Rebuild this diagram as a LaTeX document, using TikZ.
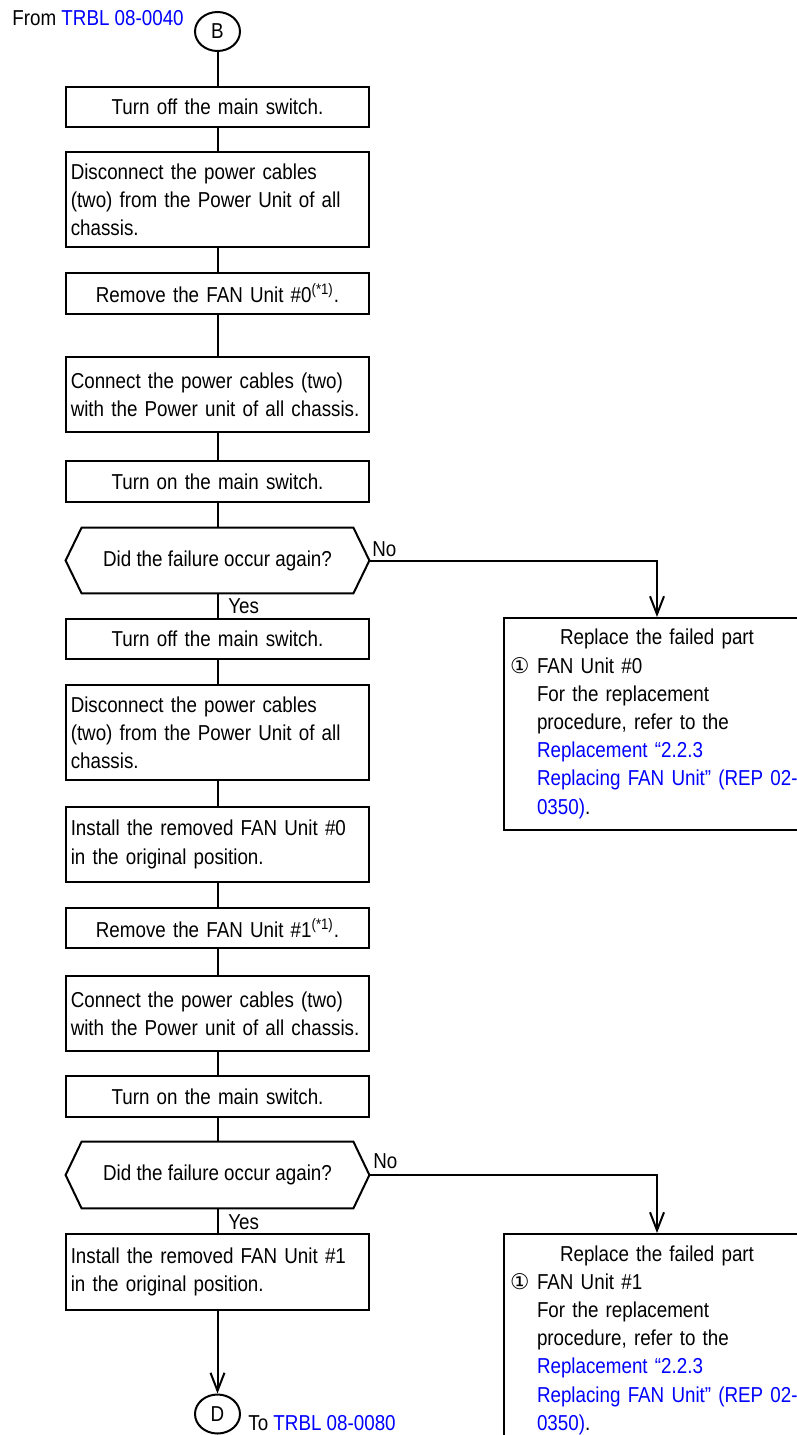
\documentclass[tikz, border = 0pt]{standalone}
\usepackage{fontspec}
\setmainfont[FakeStretch = 0.87]{Liberation Sans}
\newfontfamily\circnumfont{DejaVu Sans}
\usetikzlibrary{arrows.meta, shapes.geometric}
\definecolor{linkblue}{RGB}{0, 0, 255}
\newcommand{\reflink}[1]{\textcolor{linkblue}{#1}}

\begin{document}
\begin{tikzpicture}[x = 0.5pt, y = -0.5pt,
        every node/.style = {font = \fontsize{10.8pt}{14.1pt}\selectfont},
        stepbox/.style = {draw, line width = 1pt, inner xsep = 2.5pt, inner ysep = 0pt, text width = 146.75pt, align = center, minimum height = #1},
        notebox/.style = {stepbox = #1, align = left},
        decbox/.style = {inner sep = 0pt, minimum width = 151.5pt, minimum height = #1},
        partbox/.style = {draw, line width = 1pt, inner xsep = 3pt, inner ysep = 0pt, text width = 147pt, align = left, minimum height = 106pt},
        endpoint/.style = {draw, line width = 1pt, ellipse, inner sep = 0pt, minimum width = 22.5pt, minimum height = 19.5pt},
        yesno/.style = {inner sep = 0pt, anchor = west},
        link/.style = {line width = 1pt},
        flow/.style = {link, -{Straight Barb[length = 9pt, width = 7pt]}}]
    \useasboundingbox (0, 0) rectangle (797, 1435);
    \clip (0, 0) rectangle (797, 1435);
    % entry and exit points
    \node[endpoint] (B) at (217.5, 31.5) {B};
    \node[inner sep = 0pt, anchor = base west] (fromlbl) at (12, 25) {From \reflink{TRBL 08-0040}};
    \node[endpoint] (D) at (217.5, 1414) {D};
    \node[inner sep = 0pt, anchor = base west] (tolbl) at (248, 1430) {To \reflink{TRBL 08-0080}};
    % main column, first pass with FAN Unit #0
    \node[stepbox = 20pt] (s1) at (217.5, 107) {Turn off the main switch.};
    \node[notebox = 47.5pt] (s2) at (217.5, 199.5) {\mbox{Disconnect the power cables}\\\mbox{(two) from the Power Unit of all}\\chassis.};
    \node[stepbox = 20.5pt] (s3) at (217.5, 293.5) {Remove the FAN Unit \#0\textsuperscript{(*1)}.};
    \node[notebox = 37.5pt] (s4) at (217.5, 394.5) {\mbox{Connect the power cables (two)}\\\mbox{with the Power unit of all chassis.}};
    \node[stepbox = 20.5pt] (s5) at (217.5, 481.5) {Turn on the main switch.};
    \node[decbox = 32.5pt] (d1) at (217.5, 560.5) {Did the failure occur again?};
    % second pass with FAN Unit #1
    \node[stepbox = 20pt] (s6) at (217.5, 639) {Turn off the main switch.};
    \node[notebox = 47.5pt] (s7) at (217.5, 732.5) {\mbox{Disconnect the power cables}\\\mbox{(two) from the Power Unit of all}\\chassis.};
    \node[notebox = 37.5pt] (s8) at (217.5, 844.5) {\mbox{Install the removed FAN Unit \#0}\\\mbox{in the original position.}};
    \node[stepbox = 20pt] (s9) at (217.5, 928) {Remove the FAN Unit \#1\textsuperscript{(*1)}.};
    \node[notebox = 37.5pt] (s10) at (217.5, 1013.5) {\mbox{Connect the power cables (two)}\\\mbox{with the Power unit of all chassis.}};
    \node[stepbox = 20.5pt] (s11) at (217.5, 1096.5) {Turn on the main switch.};
    \node[decbox = 33pt] (d2) at (217.5, 1175) {Did the failure occur again?};
    \node[notebox = 38pt] (s12) at (217.5, 1272) {\mbox{Install the removed FAN Unit \#1}\\\mbox{in the original position.}};
    % the decisions are drawn as hexagons round their text
    \foreach \d in {d1, d2}{
        \draw[link] ([xshift = 8pt]\d.north west) -- ([xshift = -8pt]\d.north east) -- (\d.east) -- ([xshift = -8pt]\d.south east) -- ([xshift = 8pt]\d.south west) -- (\d.west) -- cycle;
    }
    % replacement boxes on the right, cut off by the page edge
    \foreach \n/\y/\u in {r1/724/0, r2/1340/1}{
        \node[partbox] (\n) at (657, \y) {\makebox[\linewidth]{Replace the failed part}\\
            \mbox{\makebox[13.5pt][l]{\circnumfont ①}FAN Unit \#\u}\\
            \mbox{\hspace*{13.5pt}For the replacement}\\
            \mbox{\hspace*{13.5pt}procedure, refer to the}\\
            \mbox{\hspace*{13.5pt}\reflink{Replacement “2.2.3}}\\
            \mbox{\hspace*{13.5pt}\reflink{Replacing FAN Unit” (REP 02-}}\\
            \mbox{\hspace*{13.5pt}\reflink{0350)}.}};
    }
    \foreach \a/\b in {B/s1, s1/s2, s2/s3, s3/s4, s4/s5, s5/d1, d1/s6, s6/s7, s7/s8, s8/s9, s9/s10, s10/s11, s11/d2, d2/s12}{
        \draw[link] (\a) -- (\b);
    }
    \draw[flow] (s12) -- (D);
    \draw[flow] (d1.east) -| (r1);
    \draw[flow] (d2.east) -| (r2);
    \node[yesno] (no1) at (372, 549) {No};
    \node[yesno] (yes1) at (228, 606) {Yes};
    \node[yesno] (no2) at (373, 1161) {No};
    \node[yesno] (yes2) at (228, 1222) {Yes};
\end{tikzpicture}
\end{document}
